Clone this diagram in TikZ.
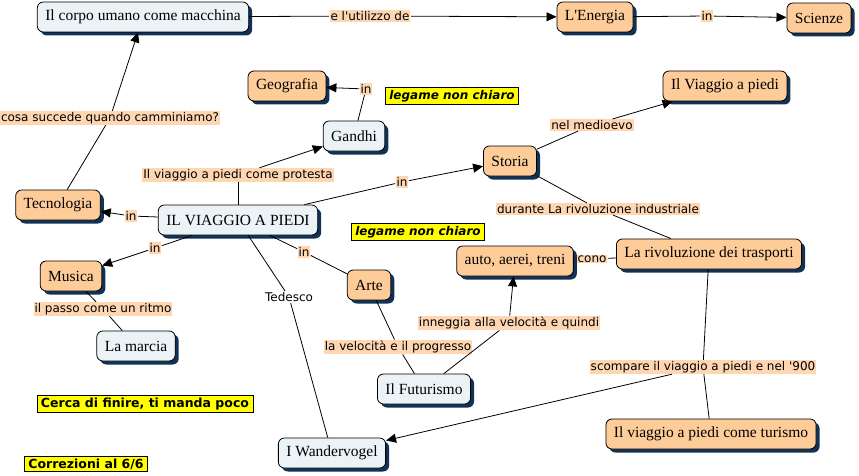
\documentclass[tikz,border=0pt]{standalone}
\usepackage{fontspec}
\setmainfont{Liberation Serif}
\newfontfamily\verdana{DejaVu Sans}
\usepackage{tikz}
\usetikzlibrary{arrows.meta,shadows}

\definecolor{peach}{RGB}{254,204,153}
\definecolor{peachlink}{RGB}{255,214,178}
\definecolor{paleblue}{RGB}{236,243,246}
\definecolor{navy}{RGB}{16,50,86}
\definecolor{noteyellow}{RGB}{255,255,0}

\tikzset{
  concept/.style={draw=black, rounded corners=6pt, inner xsep=8pt, inner ysep=0pt,
    minimum height=30pt, font=\fontsize{15.5}{17}\selectfont,
    drop shadow={shadow xshift=3.5pt, shadow yshift=-3.5pt, fill=navy, opacity=1}},
  warm/.style={concept, fill=peach},
  cool/.style={concept, fill=paleblue},
  linklbl/.style={fill=peachlink, inner sep=1pt, font=\verdana\fontsize{12}{14}\selectfont},
  note/.style={draw=black, fill=noteyellow, inner xsep=4pt, inner ysep=2.5pt,
    font=\verdana\bfseries\fontsize{12.5}{14}\selectfont},
  noteit/.style={note, font=\verdana\bfseries\itshape\fontsize{12}{14}\selectfont},
  arr/.style={-{Triangle[length=10pt,width=9pt]}}
}

\begin{document}
\begin{tikzpicture}[x=1pt, y=-1pt, line width=0.8pt]
  \useasboundingbox (0,0) rectangle (859,476);

  % concepts
  \node[cool] (corpo) at (143,17) {Il corpo umano come macchina};
  \node[warm] (energia) at (595,17) {L\textquotesingle Energia};
  \node[warm] (scienze) at (819,18) {Scienze};
  \node[warm] (geo) at (287,86) {Geografia};
  \node[cool] (gandhi) at (354,136) {Gandhi};
  \node[warm] (medio) at (725,86) {Il Viaggio a piedi};
  \node[warm] (storia) at (510,161) {Storia};
  \node[warm] (tecno) at (58,205) {Tecnologia};
  \node[cool] (viaggio) at (238,220) {IL VIAGGIO A PIEDI};
  \node[warm] (trasporti) at (709,254) {La rivoluzione dei trasporti};
  \node[warm] (mezzi) at (515,261) {auto, aerei, treni};
  \node[warm] (musica) at (71,276) {Musica};
  \node[warm] (arte) at (369,285) {Arte};
  \node[cool] (marcia) at (136,346) {La marcia};
  \node[cool] (futurismo) at (424,389) {Il Futurismo};
  \node[warm] (turismo) at (711,434) {Il viaggio a piedi come turismo};
  \node[cool] (wander) at (332,453) {I Wandervogel};

  % notes
  \node[noteit] (nota1) at (452,96) {legame non chiaro};
  \node[noteit] (nota2) at (418,232) {legame non chiaro};
  \node[note] (nota3) at (145,404) {Cerca di finire, ti manda poco};
  \node[note] (nota4) at (86,464) {Correzioni al 6/6};

  % link labels
  \node[linklbl] (lutil) at (370,16) {e l\textquotesingle utilizzo de};
  \node[linklbl] (lsci) at (707,16) {in};
  \node[linklbl] (lgeo) at (366,89) {in};
  \node[linklbl] (lcosa) at (110,118) {cosa succede quando camminiamo?};
  \node[linklbl] (lprot) at (238,175) {Il viaggio a piedi come protesta};
  \node[linklbl] (lsto) at (402,182) {in};
  \node[linklbl] (ltec) at (131,216) {in};
  \node[linklbl] (lmed) at (592,125) {nel medioevo};
  \node[linklbl] (lind) at (598,209) {durante La rivoluzione industriale};
  \node[linklbl] (lmus) at (155,248) {in};
  \node[linklbl] (lart) at (304,252) {in};
  \node[linklbl, fill=none] (lted) at (289,297) {Tedesco};
  \node[linklbl] (lpasso) at (103,309) {il passo come un ritmo};
  \node[linklbl] (lcono) at (592,259) {cono};
  \node[linklbl] (linn) at (509,323) {inneggia alla velocità e quindi};
  \node[linklbl] (lvel) at (398,347) {la velocità e il progresso};
  \node[linklbl] (lsco) at (703,367) {scompare il viaggio a piedi e nel \textquotesingle 900};

  % connectors
  \draw (corpo) -- (lutil);
  \draw[arr] (lutil) -- (energia);
  \draw (energia) -- (lsci);
  \draw[arr] (lsci) -- (scienze);
  \draw (tecno) -- (lcosa);
  \draw[arr] (lcosa) -- (corpo);
  \draw (gandhi) -- (lgeo);
  \draw[arr] (lgeo) -- (geo);
  \draw (viaggio) -- (lprot);
  \draw[arr] (lprot) -- (gandhi);
  \draw (viaggio) -- (lsto);
  \draw[arr] (lsto) -- (storia);
  \draw (viaggio) -- (ltec);
  \draw[arr] (ltec) -- (tecno);
  \draw (storia) -- (lmed);
  \draw[arr] (lmed) -- (medio);
  \draw (storia) -- (lind);
  \draw (lind) -- (trasporti);
  \draw (trasporti) -- (lcono);
  \draw (viaggio) -- (lmus);
  \draw[arr] (lmus) -- (musica);
  \draw (viaggio) -- (lart);
  \draw (lart) -- (arte);
  \draw (viaggio) -- (lted);
  \draw (lted) -- (wander);
  \draw (musica) -- (lpasso);
  \draw (lpasso) -- (marcia);
  \draw (arte) -- (lvel);
  \draw (lvel) -- (futurismo);
  \draw (futurismo) -- (linn);
  \draw[arr] (linn) -- (mezzi);
  \draw (trasporti) -- (lsco);
  \draw (lsco) -- (turismo);
  \draw[arr] (lsco) -- (wander);
\end{tikzpicture}
\end{document}
